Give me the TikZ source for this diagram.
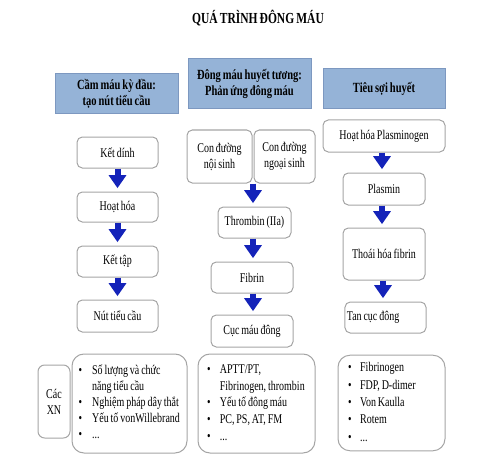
\documentclass[tikz,border=0pt]{standalone}
\usepackage{fontspec}
\setmainfont{Liberation Serif}[FakeStretch=0.75,WordSpace=0.75]
\usepackage{tikz}
\usetikzlibrary{calc,arrows.meta}
\definecolor{hdblue}{RGB}{149,179,215}
\definecolor{hdline}{RGB}{125,152,192}
\definecolor{boxline}{RGB}{165,165,165}
\definecolor{arrblue}{RGB}{20,35,185}

\begin{document}
\begin{tikzpicture}[x=0.75pt,y=-0.75pt,
	header/.style={draw=hdline,fill=hdblue,line width=0.75pt,align=center,inner sep=1pt,font=\fontsize{10.5}{12}\selectfont\bfseries},
	stepbox/.style={draw=boxline,line width=0.75pt,rounded corners=4pt,align=center,inner sep=1pt,font=\fontsize{10}{12}\selectfont},
	testbox/.style={draw=boxline,line width=0.75pt,rounded corners=9pt,align=flush left,execute at begin node={\spaceskip=0pt\xspaceskip=0pt},font=\fontsize{10}{12}\selectfont},
	flow/.style={draw=arrblue,line width=4.5pt,-{Triangle[length=9.75pt,width=12.75pt]},shorten >=2.5pt}]
					\useasboundingbox (0,0) rectangle (500,460);
					
					\node (title) at (258,18) [font=\fontsize{11.5}{14}\selectfont\bfseries] {QUÁ TRÌNH ĐÔNG MÁU};
					
					\node (hL) at (116.5,94) [header,minimum width=92.25pt,minimum height=30pt] {Cầm máu kỳ đầu:\\tạo nút tiểu cầu};
					\node (hM) at (249.5,84) [header,minimum width=92.25pt,minimum height=37.5pt] {Đông máu huyết tương:\\Phản ứng đông máu};
					\node (hR) at (384,89) [header,minimum width=91.5pt,minimum height=30pt] {Tiêu sợi huyết};
					
					\node (ketdinh) at (117.5,152.5) [stepbox,minimum width=60.75pt,minimum height=23.25pt] {Kết dính};
					\node (hoathoa) at (117.5,207) [stepbox,minimum width=60.75pt,minimum height=22.5pt] {Hoạt hóa};
					\node (kettap) at (117.5,261.5) [stepbox,minimum width=60.75pt,minimum height=23.25pt] {Kết tập};
					\node (nut) at (117.5,316) [stepbox,minimum width=60.75pt,minimum height=24pt] {Nút tiểu cầu};
					
					\node (noisinh) at (219.5,156.5) [stepbox,minimum width=48.75pt,minimum height=39.75pt] {Con đường\\nội sinh};
					\node (ngoaisinh) at (284.5,156.5) [stepbox,minimum width=45.75pt,minimum height=39.75pt] {Con đường\\ngoại sinh};
					\node (thrombin) at (254.5,222.5) [stepbox,minimum width=54.75pt,minimum height=23.25pt] {Thrombin (IIa)};
					\node (fibrin) at (252,277.5) [stepbox,minimum width=61.5pt,minimum height=23.25pt] {Fibrin};
					\node (cuc) at (252,331) [stepbox,minimum width=61.5pt,minimum height=24pt] {Cục máu đông};
					
					\node (plasminogen) at (384,136) [stepbox,minimum width=91.5pt,minimum height=24pt] {Hoạt hóa Plasminogen};
					\node (plasmin) at (384,189) [stepbox,minimum width=61.5pt,minimum height=24pt] {Plasmin};
					\node (thoai) at (384,254) [stepbox,minimum width=61.5pt,minimum height=39pt] {Thoái hóa fibrin};
					\node (tan) at (385.5,317.5) [stepbox,align=flush left,execute at begin node={\spaceskip=0pt\xspaceskip=0pt},text width=58pt,inner xsep=1.4pt,minimum height=23.25pt] {Tan cục đông};
					
					\node (xn) at (54,401.5) [stepbox,rounded corners=5pt,minimum width=24pt,minimum height=54.75pt] {Các\\XN};
					\node (testL) at (129.5,403.5) [testbox,text width=76.25pt,inner xsep=5pt,minimum height=74.25pt] {\begin{tabular}{@{}l@{\hspace{7.5pt}}l@{}}\textbullet & Số lượng và chức\\ & năng tiểu cầu\\ \textbullet & Nghiệm pháp dây thắt\\ \textbullet & Yếu tố vonWillebrand\\ \textbullet & ...\end{tabular}};
					\node (testM) at (256.5,403.5) [testbox,text width=74.25pt,inner xsep=6.75pt,minimum height=74.25pt,font=\fontsize{10}{12.5}\selectfont] {\begin{tabular}{@{}l@{\hspace{7pt}}l@{}}\textbullet & APTT/PT,\\ & Fibrinogen, thrombin\\ \textbullet & Yếu tố đông máu\\ \textbullet & PC, PS, AT, FM\\ \textbullet & ...\end{tabular}};
					\node (testR) at (391.5,403) [testbox,text width=65.25pt,inner xsep=7.5pt,minimum height=67.5pt,font=\fontsize{10}{13}\selectfont] {\begin{tabular}{@{}l@{\hspace{6.5pt}}l@{}}\textbullet & Fibrinogen\\ \textbullet & FDP, D-dimer\\ \textbullet & Von Kaulla\\ \textbullet & Rotem\\ \textbullet & ...\end{tabular}};
					
					\draw[flow] (ketdinh) -- (hoathoa);
					\draw[flow] (hoathoa) -- (kettap);
					\draw[flow] (kettap) -- (nut);
					
					\coordinate (join) at ($(noisinh.south east)!0.5!(ngoaisinh.south west)$);
					\draw[flow] (join) -- (join |- thrombin.north);
					\draw[flow] (thrombin.south -| join) -- (join |- fibrin.north);
					\draw[flow] (fibrin.south -| join) -- (join |- cuc.north);
					
					\draw[flow] (plasminogen.south -| 382,0) -- (plasmin.north -| 382,0);
					\draw[flow] (plasmin.south -| 382,0) -- (thoai.north -| 382,0);
					\draw[flow] (thoai.south -| 383,0) -- (tan.north -| 383,0);
				\end{tikzpicture}
\end{document}
